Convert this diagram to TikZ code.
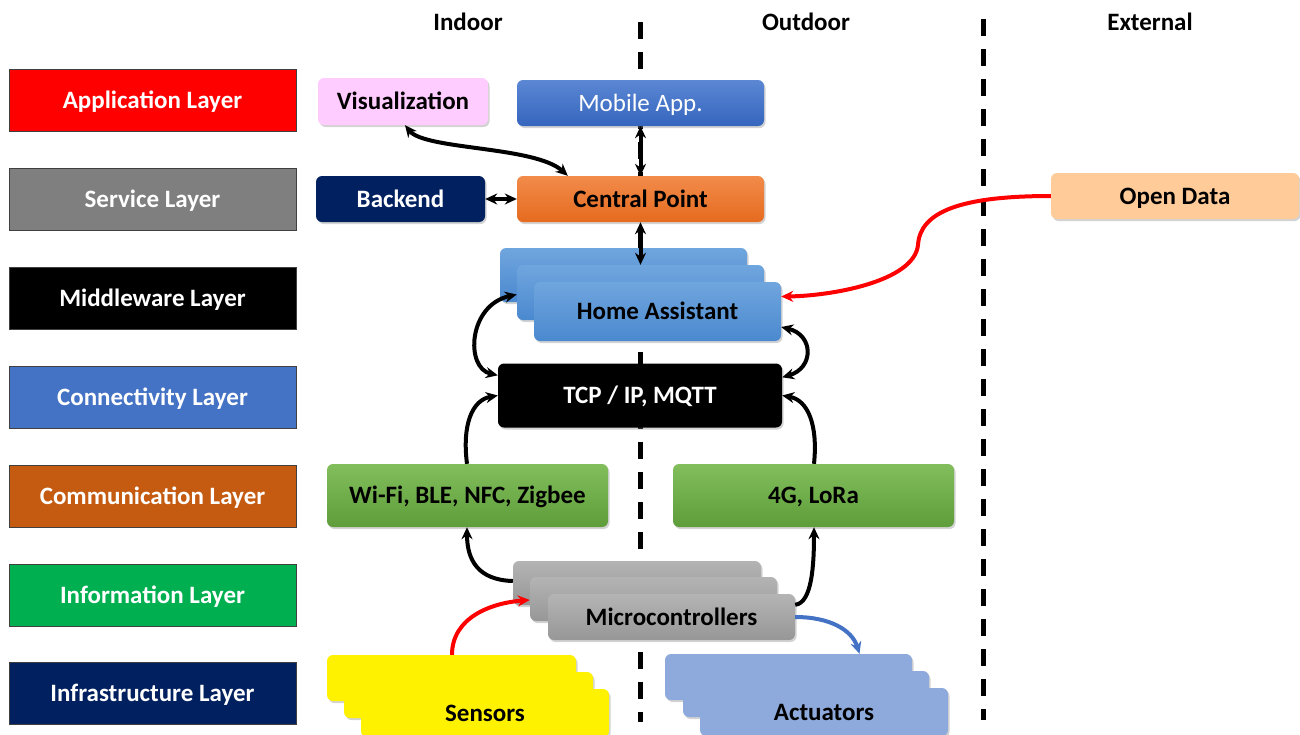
\documentclass[tikz,border=0pt]{standalone}
\usepackage{fontspec}
\setmainfont{Carlito}
\usetikzlibrary{arrows.meta,shadows,calc}
\definecolor{lApp}{HTML}{FF0000}
\definecolor{lSrv}{HTML}{7F7F7F}
\definecolor{lMid}{HTML}{000000}
\definecolor{lCon}{HTML}{4472C4}
\definecolor{lCom}{HTML}{C55A11}
\definecolor{lInf}{HTML}{00B050}
\definecolor{lIns}{HTML}{002060}
\definecolor{visC}{HTML}{FFCCFF}
\definecolor{mobT}{HTML}{5B87D3}
\definecolor{mobB}{HTML}{3565BE}
\definecolor{cpT}{HTML}{F28B4A}
\definecolor{cpB}{HTML}{E56B1F}
\definecolor{haT}{HTML}{70A6DE}
\definecolor{haB}{HTML}{4A88CF}
\definecolor{grT}{HTML}{82BE5C}
\definecolor{grB}{HTML}{5E9D3A}
\definecolor{mcT}{HTML}{B4B4B4}
\definecolor{mcB}{HTML}{979797}
\definecolor{actC}{HTML}{8EA9DB}
\definecolor{odC}{HTML}{FFCC99}
\definecolor{blueArr}{HTML}{4472C4}
\tikzset{
  layerbox/.style={draw=black!75, line width=1pt, minimum width=287pt, minimum height=62pt, inner sep=0pt, text=white, text height=16pt, text depth=0pt, font=\fontsize{25}{28}\selectfont\bfseries},
  rbox/.style={rounded corners=6pt, inner sep=0pt, text height=16pt, text depth=0pt, font=\fontsize{25}{28}\selectfont\bfseries, drop shadow={shadow xshift=1.5pt, shadow yshift=-2pt, opacity=0.35}},
  hdr/.style={font=\fontsize{25}{28}\selectfont\bfseries},
  divider/.style={line width=5pt, dash pattern=on 17pt off 13pt},
  conn/.style={line width=4pt},
  tip/.tip={Stealth[length=12pt,width=11pt]}
}
\begin{document}
\begin{tikzpicture}[x=1pt,y=-1pt]
\useasboundingbox (0,0) rectangle (1300,734);
% headers
\node[hdr] (hIn) at (468,22) {Indoor};
\node[hdr] (hOut) at (806,22) {Outdoor};
\node[hdr] (hExt) at (1150,22) {External};
% dividers
\coordinate (d1t) at (640,22); \coordinate (d1b) at (640,722);
\coordinate (d2t) at (983,19); \coordinate (d2b) at (983,720);
\draw[divider] (d1t) -- (d1b);
\draw[divider] (d2t) -- (d2b);
% layers
\node[layerbox, fill=lApp] (L1) at (152.5,100) {Application Layer};
\node[layerbox, fill=lSrv] (L2) at (152.5,199) {Service Layer};
\node[layerbox, fill=lMid] (L3) at (152.5,298) {Middleware Layer};
\node[layerbox, fill=lCon] (L4) at (152.5,397) {Connectivity Layer};
\node[layerbox, fill=lCom] (L5) at (152.5,496) {Communication Layer};
\node[layerbox, fill=lInf] (L6) at (152.5,595) {Information Layer};
\node[layerbox, fill=lIns] (L7) at (152.5,693) {Infrastructure Layer};
% application
\node[rbox, fill=visC, minimum width=170pt, minimum height=47pt] (vis) at (403,101.5) {Visualization};
\node[rbox, top color=mobT, bottom color=mobB, text=white, minimum width=247pt, minimum height=46pt, font=\fontsize{25}{28}\selectfont] (mob) at (640.5,103) {Mobile App.};
% service
\node[rbox, fill=lIns, text=white, minimum width=169pt, minimum height=46pt] (be) at (400.5,199) {Backend};
\node[rbox, top color=cpT, bottom color=cpB, minimum width=247pt, minimum height=46pt] (cp) at (640.5,199) {Central Point};
\node[rbox, fill=odC, minimum width=248pt, minimum height=46pt] (od) at (1175,196) {Open Data};
% home assistant stack
\node[rbox, top color=haT, bottom color=haB, minimum width=247pt, minimum height=54pt] (ha1) at (623.5,275) {};
\node[rbox, top color=haT, bottom color=haB, minimum width=247pt, minimum height=55pt] (ha2) at (640.5,292.5) {};
\node[rbox, top color=haT, bottom color=haB, minimum width=247pt, minimum height=59pt] (ha) at (657.5,311.5) {Home Assistant};
% tcp
\node[rbox, fill=black, text=white, minimum width=284pt, minimum height=64pt] (tcp) at (640,395.5) {TCP / IP, MQTT};
% communication
\node[rbox, top color=grT, bottom color=grB, minimum width=281pt, minimum height=63pt] (wifi) at (467.5,495.5) {Wi-Fi, BLE, NFC, Zigbee};
\node[rbox, top color=grT, bottom color=grB, minimum width=281pt, minimum height=63pt] (lte) at (813.5,495.5) {4G, LoRa};
% microcontrollers
\node[rbox, top color=mcT, bottom color=mcB, minimum width=248pt, minimum height=44pt] (mc1) at (637,583) {};
\node[rbox, top color=mcT, bottom color=mcB, minimum width=247pt, minimum height=44pt] (mc2) at (653.5,599) {};
\node[rbox, top color=mcT, bottom color=mcB, minimum width=247pt, minimum height=46pt] (mc) at (671.5,617) {Microcontrollers};
% sensors
\node[rbox, fill=yellow, minimum width=249pt, minimum height=46pt] (s1) at (451.5,678) {};
\node[rbox, fill=yellow, minimum width=249pt, minimum height=46pt] (s2) at (468.5,695) {};
\node[rbox, fill=yellow, minimum width=248pt, minimum height=48pt] (sen) at (485,713) {Sensors};
% actuators
\node[rbox, fill=actC, minimum width=247pt, minimum height=46pt] (a1) at (788.5,677) {};
\node[rbox, fill=actC, minimum width=246pt, minimum height=46pt] (a2) at (806,694) {};
\node[rbox, fill=actC, minimum width=248pt, minimum height=48pt] (act) at (824,712) {Actuators};
% connectors
\draw[conn, {tip}-{tip}] ([xshift=2pt]vis.south) .. controls (425,150) and (535,146) .. ([xshift=51pt]cp.north west);
\draw[conn, {tip}-{tip}] (mob.south) -- (cp.north);
\draw[conn, {tip}-{tip}] (be.east) -- (cp.west);
\draw[conn, {tip}-{tip}] (cp.south) -- (ha2.north);
\draw[conn, {tip}-{tip}] ([yshift=-2pt]ha2.west) .. controls (468,305) and (465,368) .. ([yshift=-12pt]tcp.north west);
\draw[conn, {tip}-{tip}] ([yshift=-15.5pt]ha.east) .. controls (814,335) and (814,368) .. ([yshift=-14pt]tcp.north east);
\draw[conn, -{tip}] ([xshift=-0.5pt]wifi.north) .. controls (462,425) and (472,400) .. (tcp.west);
\draw[conn, -{tip}] ([xshift=0.5pt]lte.north) .. controls (818,425) and (808,400) .. (tcp.east);
\draw[conn, -{tip}] ([yshift=2pt]mc1.west) .. controls (478,580) and (467,560) .. ([xshift=-0.5pt]wifi.south);
\draw[conn, -{tip}] ([yshift=-11pt]mc.north east) .. controls (812,603) and (814,565) .. ([xshift=0.5pt]lte.south);
\draw[conn, red, -{tip}] ([xshift=0.5pt]s1.north) .. controls (452,618) and (490,603) .. ([yshift=-1pt]mc2.west);
\draw[conn, blueArr, -{tip}] (mc.east) .. controls (830,617) and (852,630) .. ([xshift=71pt]a1.north);
\draw[conn, red, -{tip}] (od.west) .. controls (960,196) and (920,212) .. (918,245) .. controls (914,282) and (830,296) .. ([yshift=15pt]ha.east);
\end{tikzpicture}
\end{document}
